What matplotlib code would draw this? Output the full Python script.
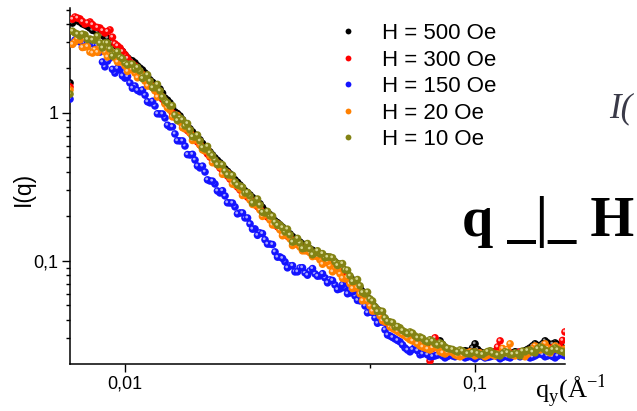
import matplotlib
matplotlib.use("Agg")
import matplotlib.pyplot as plt
from matplotlib import transforms
from matplotlib.lines import Line2D
from matplotlib.ticker import FixedLocator, NullFormatter, FixedFormatter
from matplotlib.transforms import Bbox, TransformedBbox

# ---------------- data ----------------
q = [0.006965, 0.007197, 0.007437, 0.007686, 0.007943, 0.008208, 0.008483, 0.008766, 0.009059, 0.009363,
     0.009676, 0.01000, 0.01033, 0.01068, 0.01104, 0.01141, 0.01179, 0.01218, 0.01259, 0.01301,
     0.01344, 0.01389, 0.01436, 0.01484, 0.01534, 0.01585, 0.01638, 0.01693, 0.01749, 0.01807,
     0.01868, 0.01931, 0.01995, 0.02062, 0.02131, 0.02202, 0.02276, 0.02352, 0.02430, 0.02512,
     0.02596, 0.02683, 0.02772, 0.02865, 0.02961, 0.03060, 0.03162, 0.03268, 0.03377, 0.03490,
     0.03607, 0.03728, 0.03852, 0.03981, 0.04114, 0.04252, 0.04394, 0.04541, 0.04693, 0.04850,
     0.05012, 0.05179, 0.05353, 0.05532, 0.05717, 0.05908, 0.06105, 0.06310, 0.06520, 0.06738,
     0.06964, 0.07197, 0.07437, 0.07686, 0.07943, 0.08208, 0.08483, 0.08766, 0.09059, 0.09363,
     0.09676, 0.1000, 0.1033, 0.1068, 0.1104, 0.1141, 0.1179, 0.1218, 0.1259, 0.1301,
     0.1344, 0.1389, 0.1436, 0.1484, 0.1534, 0.1585, 0.1638, 0.1693, 0.1749, 0.1807]

q_mid = [0.007080, 0.007316, 0.007560, 0.007813, 0.008075, 0.008344, 0.008624, 0.008911, 0.009209, 0.009518,
         0.009836, 0.01017, 0.01050, 0.01086, 0.01122, 0.01160, 0.01199, 0.01238, 0.01280, 0.01323,
         0.01366, 0.01412, 0.01460, 0.01509, 0.01559, 0.01611, 0.01665, 0.01721, 0.01778, 0.01837,
         0.01899, 0.01963, 0.02028, 0.02096, 0.02166, 0.02239, 0.02314, 0.02391, 0.02470, 0.02554,
         0.02639, 0.02728, 0.02818, 0.02912, 0.03010, 0.03111, 0.03214, 0.03322, 0.03433, 0.03548,
         0.03667, 0.03790, 0.03916, 0.04047, 0.04182, 0.04323, 0.04467, 0.04616, 0.04771, 0.04930,
         0.05095, 0.05265, 0.05442, 0.05624, 0.05812, 0.06006, 0.06206, 0.06415, 0.06628, 0.06850,
         0.07080, 0.07316, 0.07560, 0.07813, 0.08075, 0.08344, 0.08624, 0.08911, 0.09209, 0.09518,
         0.09836, 0.1017, 0.1050, 0.1086, 0.1122, 0.1160, 0.1199, 0.1238, 0.1280, 0.1323,
         0.1366, 0.1412, 0.1460, 0.1509, 0.1559, 0.1611, 0.1665, 0.1721, 0.1778]

I_500 = [1.595, 4.25, 4.12, 3.93, 3.75, 3.58, 3.47, 3.26, 3.11, 2.88,
         2.71, 2.47, 2.28, 2.18, 2.01, 1.86, 1.67, 1.546, 1.45, 1.26,
         1.17, 1.016, 0.954, 0.843, 0.78, 0.71, 0.657, 0.589, 0.545, 0.497,
         0.46, 0.418, 0.387, 0.353, 0.326, 0.297, 0.279, 0.258, 0.243, 0.218,
         0.205, 0.186, 0.175, 0.162, 0.152, 0.141, 0.134, 0.126, 0.1205, 0.115,
         0.110, 0.1064, 0.105, 0.0985, 0.0925, 0.0856, 0.0779, 0.071, 0.0657, 0.0589,
         0.0537, 0.0488, 0.0445, 0.0406, 0.0369, 0.0347, 0.0337, 0.0326, 0.0311, 0.0302,
         0.0293, 0.0279, 0.0270, 0.0262, 0.0288, 0.0258, 0.0250, 0.0243, 0.0239, 0.0247,
         0.0243, 0.0275, 0.0243, 0.0235, 0.0239, 0.0243, 0.0232, 0.0239, 0.0235, 0.0243,
         0.0239, 0.0247, 0.0258, 0.0275, 0.0262, 0.0288, 0.0270, 0.0279, 0.0266, 0.0250]
I_500_mid = [4.05, 4.20, 4.00, 3.85, 3.62, 3.55, 3.35, 3.20, 2.98, 2.80,
             2.60, 2.36, 2.25, 2.08, 1.95, 1.76, 1.61, 1.50, 1.36, 1.22,
             1.09, 0.99, 0.90, 0.81, 0.745, 0.685, 0.622, 0.568, 0.520, 0.478,
             0.440, 0.403, 0.370, 0.340, 0.312, 0.289, 0.268, 0.251, 0.230, 0.212,
             0.196, 0.181, 0.169, 0.157, 0.146, 0.138, 0.130, 0.124, 0.118, 0.113,
             0.108, 0.1060, 0.1020, 0.0955, 0.0890, 0.0820, 0.0745, 0.0685, 0.0620, 0.0565,
             0.0512, 0.0468, 0.0425, 0.0388, 0.0358, 0.0342, 0.0330, 0.0318, 0.0306, 0.0298,
             0.0286, 0.0275, 0.0266, 0.0270, 0.0272, 0.0254, 0.0246, 0.0241, 0.0244, 0.0245,
             0.0258, 0.0252, 0.0239, 0.0237, 0.0241, 0.0237, 0.0236, 0.0237, 0.0239, 0.0241,
             0.0243, 0.0252, 0.0266, 0.0268, 0.0275, 0.0279, 0.0274, 0.0272, 0.0258]

I_300 = [1.50, 4.45, 4.32, 3.99, 4.12, 3.81, 3.75, 3.47, 3.64, 2.93,
         2.75, 2.47, 2.21, 2.08, 1.89, 1.75, 1.57, 1.43, 1.32, 1.17,
         1.064, 0.94, 0.883, 0.792, 0.733, 0.667, 0.608, 0.554, 0.504, 0.467,
         0.425, 0.393, 0.358, 0.331, 0.302, 0.279, 0.262, 0.243, 0.2245, 0.205,
         0.192, 0.175, 0.1645, 0.152, 0.143, 0.132, 0.126, 0.119, 0.115, 0.110,
         0.105, 0.100, 0.0955, 0.0897, 0.0843, 0.0792, 0.071, 0.0667, 0.0608, 0.0553,
         0.0512, 0.0466, 0.0425, 0.0387, 0.0364, 0.0347, 0.0331, 0.0321, 0.0306, 0.0297,
         0.0284, 0.0275, 0.0211, 0.0302, 0.0254, 0.0247, 0.0239, 0.0243, 0.0235, 0.0239,
         0.0232, 0.0243, 0.0235, 0.0228, 0.0239, 0.0243, 0.0288, 0.0235, 0.0239, 0.0232,
         0.0243, 0.0235, 0.0250, 0.0243, 0.0254, 0.0247, 0.0258, 0.0250, 0.0262, 0.0331]
I_300_mid = [4.30, 4.38, 4.15, 4.05, 3.95, 3.78, 3.60, 3.55, 3.25, 2.84,
             2.60, 2.34, 2.14, 1.98, 1.82, 1.66, 1.50, 1.37, 1.24, 1.11,
             1.00, 0.91, 0.84, 0.76, 0.70, 0.637, 0.580, 0.528, 0.485, 0.446,
             0.408, 0.375, 0.344, 0.316, 0.290, 0.270, 0.252, 0.233, 0.214, 0.198,
             0.183, 0.170, 0.158, 0.147, 0.137, 0.129, 0.122, 0.117, 0.1125, 0.1075,
             0.1025, 0.0978, 0.0925, 0.0870, 0.0818, 0.0750, 0.0688, 0.0637, 0.0580, 0.0532,
             0.0489, 0.0445, 0.0405, 0.0375, 0.0355, 0.0339, 0.0326, 0.0313, 0.0301, 0.0290,
             0.0279, 0.0243, 0.0256, 0.0277, 0.0250, 0.0243, 0.0241, 0.0239, 0.0237, 0.0235,
             0.0237, 0.0239, 0.0231, 0.0233, 0.0241, 0.0262, 0.0251, 0.0237, 0.0235, 0.0237,
             0.0239, 0.0242, 0.0247, 0.0248, 0.0250, 0.0252, 0.0254, 0.0256, 0.0290]

I_150 = [1.24, 3.11, 3.02, 2.93, 2.79, 2.88, 2.58, 2.05, 2.35, 1.86,
         1.95, 1.72, 1.595, 1.52, 1.39, 1.32, 1.17, 1.115, 0.985, 0.925,
         0.804, 0.721, 0.647, 0.598, 0.520, 0.481, 0.425, 0.399, 0.347, 0.331,
         0.288, 0.275, 0.2465, 0.2317, 0.211, 0.1952, 0.178, 0.1645, 0.1546, 0.139,
         0.130, 0.115, 0.1064, 0.0985, 0.0925, 0.0843, 0.0897, 0.083, 0.0856, 0.0818,
         0.0792, 0.0768, 0.0744, 0.0688, 0.0647, 0.0657, 0.0608, 0.058, 0.0537, 0.0496,
         0.0452, 0.0412, 0.0387, 0.0342, 0.0311, 0.0297, 0.0284, 0.0258, 0.0243, 0.0262,
         0.0232, 0.0239, 0.0225, 0.0228, 0.0235, 0.0221, 0.0232, 0.0225, 0.0235, 0.0221,
         0.0228, 0.0218, 0.0232, 0.0221, 0.0225, 0.0232, 0.0218, 0.0228, 0.0221, 0.0235,
         0.0225, 0.0232, 0.0221, 0.0228, 0.0239, 0.0225, 0.0232, 0.0221, 0.0235, 0.0228]
I_150_mid = [2.93, 3.21, 2.79, 2.95, 2.69, 2.86, 2.21, 2.24, 1.97, 2.00,
             1.78, 1.76, 1.47, 1.42, 1.43, 1.19, 1.20, 0.987, 0.984, 0.826,
             0.806, 0.649, 0.647, 0.523, 0.525, 0.438, 0.437, 0.353, 0.346, 0.297,
             0.298, 0.247, 0.246, 0.208, 0.211, 0.195, 0.164, 0.149, 0.153, 0.130,
             0.129, 0.106, 0.104, 0.0898, 0.0928, 0.0844, 0.0899, 0.0801, 0.0887, 0.0789,
             0.0819, 0.0711, 0.0737, 0.0640, 0.0691, 0.0600, 0.0618, 0.0541, 0.0542, 0.0446,
             0.0449, 0.0379, 0.0386, 0.0316, 0.0304, 0.0290, 0.0271, 0.0250, 0.0252, 0.0247,
             0.0235, 0.0232, 0.0226, 0.0231, 0.0228, 0.0226, 0.0228, 0.0230, 0.0228, 0.0224,
             0.0223, 0.0225, 0.0226, 0.0223, 0.0228, 0.0225, 0.0223, 0.0224, 0.0228, 0.0230,
             0.0228, 0.0226, 0.0224, 0.0233, 0.0232, 0.0228, 0.0226, 0.0228, 0.0231]

I_20 = [1.43, 3.02, 3.11, 2.79, 2.58, 2.67, 2.79, 2.58, 2.47, 2.35,
        2.21, 2.08, 1.98, 1.86, 1.78, 1.64, 1.52, 1.41, 1.30, 1.15,
        1.048, 0.94, 0.869, 0.78, 0.733, 0.657, 0.608, 0.554, 0.512, 0.46,
        0.432, 0.387, 0.364, 0.326, 0.3065, 0.279, 0.258, 0.239, 0.221, 0.205,
        0.189, 0.175, 0.162, 0.150, 0.141, 0.130, 0.124, 0.117, 0.1135, 0.1085,
        0.1016, 0.0985, 0.0925, 0.087, 0.0818, 0.0757, 0.0700, 0.0657, 0.0599, 0.0545,
        0.0496, 0.0459, 0.0425, 0.0387, 0.0358, 0.0342, 0.0326, 0.0311, 0.0293, 0.0284,
        0.0266, 0.0258, 0.0250, 0.0270, 0.0243, 0.0235, 0.0247, 0.0232, 0.0225, 0.0235,
        0.0243, 0.0228, 0.0239, 0.0225, 0.0235, 0.0228, 0.0232, 0.0239, 0.0275, 0.0228,
        0.0235, 0.0225, 0.0243, 0.0266, 0.0250, 0.0275, 0.0239, 0.0266, 0.0247, 0.0254]
I_20_mid = [2.91, 3.17, 2.77, 2.81, 2.54, 2.57, 2.79, 2.39, 2.55, 2.21,
            2.25, 1.91, 1.96, 1.73, 1.81, 1.52, 1.50, 1.28, 1.28, 1.08,
            0.941, 0.959, 0.795, 0.794, 0.652, 0.657, 0.563, 0.564, 0.461, 0.459,
            0.385, 0.394, 0.330, 0.325, 0.277, 0.284, 0.241, 0.239, 0.200, 0.207,
            0.175, 0.178, 0.148, 0.149, 0.127, 0.133, 0.117, 0.122, 0.107, 0.107,
            0.095, 0.0993, 0.0844, 0.0887, 0.0764, 0.0772, 0.0651, 0.0659, 0.0538, 0.0536,
            0.0458, 0.0464, 0.0394, 0.0387, 0.0350, 0.0334, 0.0318, 0.0302, 0.0288, 0.0275,
            0.0262, 0.0254, 0.0259, 0.0257, 0.0239, 0.0241, 0.0240, 0.0228, 0.0230, 0.0239,
            0.0236, 0.0233, 0.0232, 0.0230, 0.0232, 0.0235, 0.0256, 0.0252, 0.0232, 0.0231,
            0.0230, 0.0234, 0.0255, 0.0258, 0.0262, 0.0257, 0.0253, 0.0257, 0.0250]

I_10 = [1.34, 3.47, 3.31, 3.37, 3.16, 3.11, 2.97, 2.97, 2.71, 2.50,
        2.39, 2.18, 2.14, 1.98, 1.92, 1.75, 1.64, 1.48, 1.41, 1.21,
        1.115, 0.969, 0.925, 0.817, 0.768, 0.688, 0.647, 0.571, 0.537, 0.481,
        0.452, 0.406, 0.381, 0.342, 0.321, 0.288, 0.275, 0.250, 0.239, 0.211,
        0.201, 0.183, 0.175, 0.157, 0.150, 0.136, 0.132, 0.122, 0.1205, 0.113,
        0.1115, 0.105, 0.1064, 0.0985, 0.0954, 0.0870, 0.0792, 0.0733, 0.0678, 0.0598,
        0.0553, 0.0489, 0.0459, 0.0412, 0.0387, 0.0358, 0.0353, 0.0331, 0.0331, 0.0311,
        0.0306, 0.0288, 0.0293, 0.0275, 0.0279, 0.0262, 0.0254, 0.0247, 0.0250, 0.0239,
        0.0235, 0.0243, 0.0232, 0.0239, 0.0247, 0.0235, 0.0228, 0.0243, 0.0232, 0.0239,
        0.0228, 0.0243, 0.0250, 0.0239, 0.0262, 0.0250, 0.0243, 0.0258, 0.0247, 0.0239]
I_10_mid = [3.57, 3.41, 3.41, 3.14, 3.11, 3.31, 2.75, 2.97, 2.42, 2.59,
            2.33, 2.11, 2.14, 2.03, 1.71, 1.81, 1.48, 1.56, 1.28, 1.17,
            1.12, 0.888, 0.898, 0.848, 0.691, 0.709, 0.582, 0.594, 0.515, 0.447,
            0.446, 0.382, 0.379, 0.326, 0.315, 0.290, 0.246, 0.262, 0.213, 0.216,
            0.201, 0.174, 0.168, 0.164, 0.134, 0.142, 0.121, 0.131, 0.110, 0.117,
            0.112, 0.106, 0.105, 0.0931, 0.0959, 0.0865, 0.0725, 0.0748, 0.0611, 0.0615,
            0.0536, 0.0454, 0.0456, 0.0390, 0.0383, 0.0360, 0.0338, 0.0322, 0.0325, 0.0302,
            0.0300, 0.0283, 0.0287, 0.0270, 0.0273, 0.0256, 0.0252, 0.0242, 0.0246, 0.0236,
            0.0241, 0.0237, 0.0233, 0.0244, 0.0238, 0.0231, 0.0236, 0.0240, 0.0234, 0.0236,
            0.0246, 0.0248, 0.0242, 0.0255, 0.0257, 0.0245, 0.0252, 0.0251, 0.0244]

labels = ["H = 500 Oe", "H = 300 Oe", "H = 150 Oe", "H = 20 Oe", "H = 10 Oe"]
series = [(I_500, I_500_mid), (I_300, I_300_mid), (I_150, I_150_mid), (I_20, I_20_mid), (I_10, I_10_mid)]
colors = ["#000000", "#ff0000", "#1414ff", "#ff8000", "#838314"]
highlights = ["#9a9a9a", "#ffb0b0", "#a8a8ff", "#ffd0a0", "#d6d690"]

x_major = [0.01, 0.1]
x_major_labels = ["0,01", "0,1"]
x_minor = [0.05]
y_major = [0.1, 1]
y_major_labels = ["0,1", "1"]
y_minor = [0.03, 0.04, 0.05, 0.06, 0.07, 0.08, 0.09, 0.2, 0.3, 0.4, 0.5, 0.6, 0.7, 0.8, 0.9, 2, 3, 4, 5]

# ---------------- figure ----------------
W, H = 637, 411
fig = plt.figure(figsize=(W / 100, H / 100), dpi=100)
fig.patch.set_facecolor("white")
ax = fig.add_axes([70 / W, 1 - 364 / H, (565 - 70) / W, (364 - 8) / H])
ax.set_xscale("log")
ax.set_yscale("log")
ax.set_xlim(0.006965, 0.1807)
ax.set_ylim(0.0201, 5.12)

hl_trans = transforms.offset_copy(ax.transData, fig=fig, x=-0.6, y=0.7, units="points")
for (I_a, I_b), c, hc in zip(series, colors, highlights):
    for qq, II in ((q, I_a), (q_mid, I_b)):
        ax.scatter(qq, II, s=30, color=c, edgecolors="none", zorder=3)
        ax.scatter(qq, II, s=4, color=hc, edgecolors="none", zorder=3, transform=hl_trans)

for s in ["top", "right"]:
    ax.spines[s].set_visible(False)
for s in ["left", "bottom"]:
    ax.spines[s].set_linewidth(1.1)

ax.xaxis.set_major_locator(FixedLocator(x_major))
ax.xaxis.set_major_formatter(FixedFormatter(x_major_labels))
ax.xaxis.set_minor_locator(FixedLocator(x_minor))
ax.xaxis.set_minor_formatter(NullFormatter())
ax.yaxis.set_major_locator(FixedLocator(y_major))
ax.yaxis.set_major_formatter(FixedFormatter(y_major_labels))
ax.yaxis.set_minor_locator(FixedLocator(y_minor))
ax.yaxis.set_minor_formatter(NullFormatter())

ax.tick_params(which="major", direction="out", length=5.5, width=1.0, labelsize=13, pad=3)
ax.tick_params(which="minor", direction="out", length=3, width=1.0)
for lab in ax.get_xticklabels() + ax.get_yticklabels():
    lab.set_fontfamily("Liberation Sans")

# y label
fig.text(23 / W, 1 - 189 / H, "I(q)", rotation=90, ha="center", va="center",
         fontsize=16.5, family="Liberation Sans")

# x label (clipped at the right, as in the reference)
xl = fig.text(535 / W, 1 - 398 / H, r"q$_{\mathregular{y}}$(Å$^{\mathregular{-1}}$)",
              ha="left", va="baseline", fontsize=19, family="Liberation Serif")
xl.set_clip_box(TransformedBbox(Bbox([[0, 0], [604 / W, 1]]), fig.transFigure))
xl.set_clip_on(True)

# annotation texts
fig.text(462 / W, 1 - 236 / H, "q _|_ H", ha="left", va="baseline", fontsize=40.5,
         family="Liberation Serif", fontweight="bold")
fig.text(609 / W, 1 - 117 / H, "I(", ha="left", va="baseline", fontsize=25,
         family="Liberation Serif", style="italic", color="#3a3a48")

# legend
handles = [Line2D([], [], linestyle="none", marker="o", markersize=4.2, color=c,
                  markeredgewidth=0) for c in colors]
leg = ax.legend(handles, labels, loc="upper left",
                bbox_to_anchor=(337 / W, 1 - 23 / H), bbox_transform=fig.transFigure,
                frameon=False, handlelength=1.0, handletextpad=1.02,
                labelspacing=0.25, borderpad=0, borderaxespad=0,
                prop={"family": "Liberation Sans", "size": 16})

fig.savefig("out.png", dpi=100)
